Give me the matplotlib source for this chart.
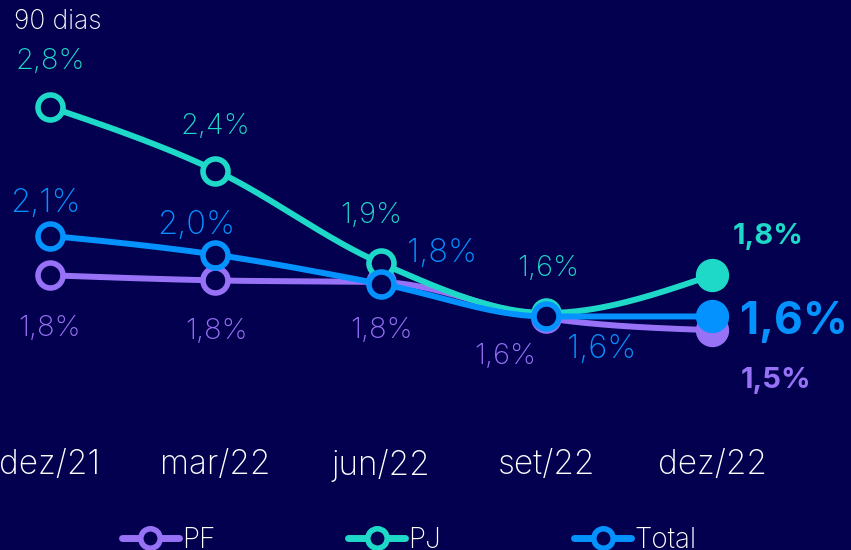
import numpy as np
import matplotlib
matplotlib.use("Agg")
import matplotlib.pyplot as plt
from matplotlib.lines import Line2D
from matplotlib.transforms import blended_transform_factory

# data
periodos = ["dez/21", "mar/22", "jun/22", "set/22", "dez/22"]
pf = [1.82, 1.79, 1.78, 1.57, 1.50]
pj = [2.80, 2.43, 1.89, 1.60, 1.82]
total = [2.05, 1.94, 1.77, 1.58, 1.58]
pf_labels = ["1,8%", "1,8%", "1,8%", "1,6%", "1,5%"]
pj_labels = ["2,8%", "2,4%", "1,9%", "1,6%", "1,8%"]
total_labels = ["2,1%", "2,0%", "1,8%", "1,6%", "1,6%"]

BG = "#02004F"
C_PF = "#9872F6"
C_PJ = "#1FD9C8"
C_TOT = "#0492FF"
FONT = "Inter"

# label offsets in pixels (layout only)
pf_off = [(0, -53), (1, -51), (1, -48), (-41, -38), (64, -50)]
pj_off = [(0, 45), (0, 44), (-10, 48), (2, 45), (56, 39)]
tot_off = [(-5, 32), (-19, 29), (61, 30), (55, -33), (82, -6)]


def monotone(x, y, n=40):
    # d3 curveMonotoneX style interpolation for the line shape
    x = np.asarray(x, float)
    y = np.asarray(y, float)
    h = np.diff(x)
    s = np.diff(y) / h
    t = np.zeros(len(x))
    for i in range(1, len(x) - 1):
        h0, h1 = h[i - 1], h[i]
        s0, s1 = s[i - 1], s[i]
        p = (s0 * h1 + s1 * h0) / (h0 + h1)
        t[i] = (np.sign(s0) + np.sign(s1)) * min(abs(s0), abs(s1), 0.5 * abs(p))
    t[0] = (3 * s[0] - t[1]) / 2
    t[-1] = (3 * s[-1] - t[-2]) / 2
    xs, ys = [], []
    for i in range(len(x) - 1):
        u = np.linspace(0, 1, n)
        h00 = 2 * u**3 - 3 * u**2 + 1
        h10 = u**3 - 2 * u**2 + u
        h01 = -2 * u**3 + 3 * u**2
        h11 = u**3 - u**2
        xs.append(x[i] + u * h[i])
        ys.append(h00 * y[i] + h10 * h[i] * t[i] + h01 * y[i + 1] + h11 * h[i] * t[i + 1])
    return np.concatenate(xs), np.concatenate(ys)


fig = plt.figure(figsize=(8.51, 5.5), dpi=100, facecolor=BG)
ax = fig.add_axes([0, 0, 1, 1])
ax.set_facecolor(BG)
ax.set_xlim(-0.302, 4.84)
ax.set_ylim(0.220, 3.423)
ax.axis("off")

x = np.arange(len(periodos))
# values, labels, offsets, colour, zorder, label size, last label size
series = [
    (pf, pf_labels, pf_off, C_PF, 2, 21, 21),
    (pj, pj_labels, pj_off, C_PJ, 3, 21, 21),
    (total, total_labels, tot_off, C_TOT, 4, 23.5, 32),
]
for vals, labs, offs, col, z, size, last_size in series:
    xs, ys = monotone(x, vals)
    ax.plot(xs, ys, color=col, lw=4.3, zorder=z, solid_capstyle="round")
    ax.plot(x[:-1], vals[:-1], "o", ms=18, mfc=BG, mec=col, mew=4, zorder=z + 0.5)
    ax.plot(x[-1], vals[-1], "o", ms=23, mfc=col, mec=col, zorder=z + 0.5)
    for i, (v, lab) in enumerate(zip(vals, labs)):
        last = i == len(vals) - 1
        ax.annotate(lab, (x[i], v), xytext=offs[i], textcoords="offset pixels",
                    ha="center", va="center", color=col, family=FONT,
                    fontsize=last_size if last else size,
                    fontweight="bold" if last else "light", zorder=10)

tr = blended_transform_factory(ax.transData, ax.transAxes)
for i, p in enumerate(periodos):
    ax.text(x[i], 1 - 465 / 550, p, transform=tr, ha="center", va="center",
            color="white", fontsize=24, family=FONT, fontweight="light")

ax.text(14 / 851, 1 - 22 / 550, "90 dias", transform=ax.transAxes, ha="left",
        va="center", color="white", fontsize=19, family=FONT, fontweight="light")

handles = [Line2D([], [], color=c, lw=5, marker="o", ms=14, mfc=BG, mec=c, mew=4,
                  solid_capstyle="round")
           for c in (C_PF, C_PJ, C_TOT)]
leg = ax.legend(handles, ["PF", "PJ", "Total"], ncol=3, loc="center left",
                bbox_to_anchor=(122 / 851, 1 - 540 / 550), frameon=False,
                handlelength=2.05, handletextpad=0.1, columnspacing=4.8,
                borderpad=0, borderaxespad=0,
                prop={"family": FONT, "size": 20, "weight": "light"})
for t in leg.get_texts():
    t.set_color("white")

plt.savefig("out.png", dpi=100, facecolor=BG)
